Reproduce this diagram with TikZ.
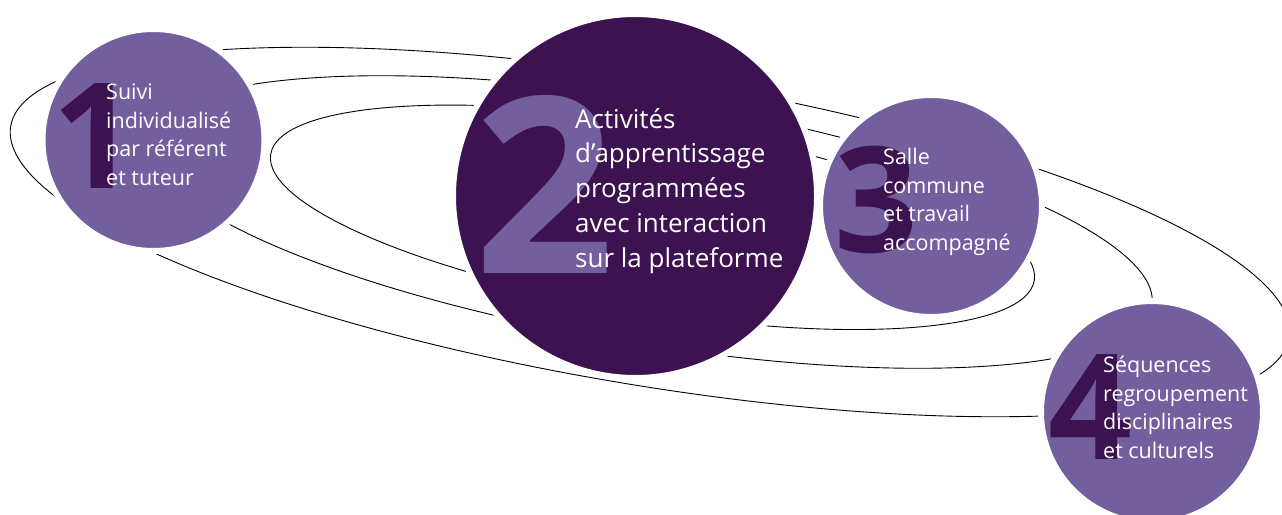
\documentclass[tikz,border=0pt]{standalone}
\usepackage{fontspec}
\setmainfont{Open Sans}
\definecolor{lightp}{HTML}{735F9E}
\definecolor{darkp}{HTML}{3C1250}
\begin{document}
\begin{tikzpicture}[x=1pt,y=-1pt,
  orbit/.style={draw=black, line width=0.9pt},
  disc/.style={circle, inner sep=0pt, draw=white, line width=6pt},
  bignum/.style={inner sep=0pt, anchor=base, font=\bfseries\fontsize{147}{147}\selectfont},
  txtsmall/.style={inner sep=0pt, anchor=base west, align=left, text=white, font=\fontsize{21.5}{28.4}\selectfont},
  txtbig/.style={inner sep=0pt, anchor=base west, align=left, text=white, font=\fontsize{26}{34.7}\selectfont}
]
\useasboundingbox (0,0) rectangle (1282,514);
% orbits
\draw[orbit, rotate around={-9.4:(650,232)}] (650,232) ellipse [x radius=648, y radius=153.5];
\draw[orbit, rotate around={-9.4:(649.7,222)}] (649.7,222) ellipse [x radius=509, y radius=122];
\draw[orbit, rotate around={-9.4:(652.5,217.3)}] (652.5,217.3) ellipse [x radius=387, y radius=94];
% discs
\node[disc, fill=lightp, minimum size=222pt] (c1) at (153.5,140) {};
\node[disc, fill=darkp, minimum size=364pt] (c2) at (635,196) {};
\node[disc, fill=lightp, minimum size=222pt] (c3) at (931,206) {};
\node[disc, fill=lightp, minimum size=222pt] (c4) at (1152,412) {};
% numerals
\node[bignum, text=darkp] (n1) at (94,188) {1};
\node[bignum, text=lightp, font=\bfseries\fontsize{246}{246}\selectfont] (n2) at (545,273) {2};
\node[bignum, text=darkp] (n3) at (876,252) {3};
\node[bignum, text=darkp] (n4) at (1090,459) {4};
% texts (base anchor = baseline of the last line)
\node[txtsmall] (t1) at (106,185) {Suivi\\individualisé\\par référent\\et tuteur};
\node[txtbig] (t2) at (575,267) {Activités\\d’apprentissage\\programmées\\avec interaction\\sur la plateforme};
\node[txtsmall] (t3) at (883,250) {Salle\\commune\\et travail\\accompagné};
\node[txtsmall] (t4) at (1103,458) {Séquences\\regroupement\\disciplinaires\\et culturels};
\end{tikzpicture}
\end{document}
